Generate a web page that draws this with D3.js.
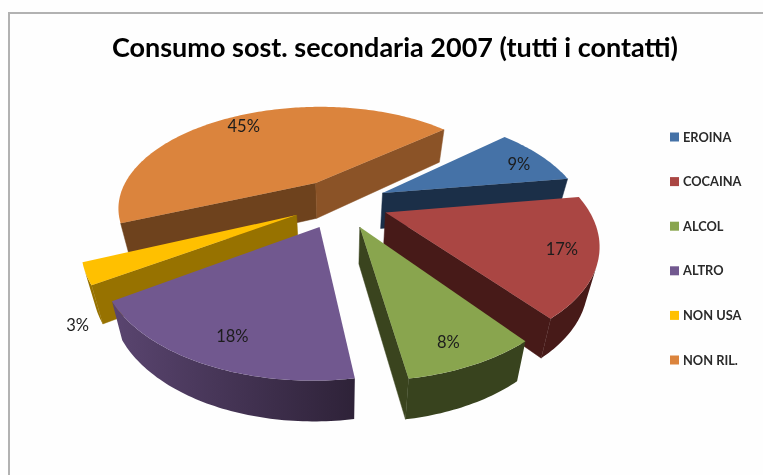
<!DOCTYPE html>
<html><head><meta charset="utf-8">
<script src="https://cdn.jsdelivr.net/npm/d3@7"></script>
<style>html,body{margin:0;padding:0;background:#fefefe;overflow:hidden}svg{display:block;filter:blur(.45px)}</style>
</head><body><svg id="c" width="763" height="475"></svg>
<script>
const titleText = "Consumo sost. secondaria 2007 (tutti i contatti)";
const categories = ["EROINA","COCAINA","ALCOL","ALTRO","NON USA","NON RIL."];
const values = [9,17,8,18,3,45];
const topColors = ["#4572a7","#aa4643","#89a54e","#71588f","#ffc000","#db843d"];
const startWallColors = ["#1b2f48","#471a18","#3a441e","#2e2238","#977200","#6e421d"];
const endWallColors = ["#1b2f48","#471a18","#3a441e","#2e2238","#977200","#8b5327"];
const rimFrom = ["#1b2f48","#471a18","#38431e","#2e2238","#977200","#6e421d"];
const rimTo = ["#1b2f48","#471a18","#38431e","#5a4570","#977200","#6e421d"];
const labelRadius = [.828,.84,.858,.83,1.145,.85];
const labelTurn = [2.4,-.3,1.4,-1.6,-16.6,-.8];
const paintOrder = [5,0,4,1,3,2];

const svg = d3.select("#c");
const W = {cx:340, cy:203, A:200, B:103, p:.24, skew:0, explode:.24, depth:36, depthP:.11, shrink:.955, start:49};
const rad = Math.PI/180;

function project(X,Y,bottom){
  const w = 1 - W.p*Y;
  let sx = W.A*X/w, sy = (W.B*Y+W.skew*X)/w;
  if(bottom){ sx *= W.shrink; sy += W.depth*(1+W.depthP*Y); }
  return [W.cx+sx, W.cy+sy];
}
const pie = d3.pie().sort(null).startAngle(W.start*rad).endAngle((W.start+360)*rad);
const arcs = pie(values);
const line = d3.line();

svg.append("path").attr("d",line([[9,475],[9,13],[763,13]])).attr("fill","none").attr("stroke","#b2b2b2").attr("stroke-width",2);

const defs = svg.append("defs");
const g = svg.append("g");
paintOrder.forEach(i=>{
  const a = arcs[i], mid=(a.startAngle+a.endAngle)/2;
  const ox = W.explode*Math.sin(mid), oy = -W.explode*Math.cos(mid);
  const n = Math.max(3,Math.ceil((a.endAngle-a.startAngle)/rad));
  const ts = d3.range(n+1).map(k=>a.startAngle+(a.endAngle-a.startAngle)*k/n);
  const ground = ts.map(t=>[ox+Math.sin(t),oy-Math.cos(t)]);
  const tip=[ox,oy];
  const quadOf=(p,q)=>[project(p[0],p[1],false),project(q[0],q[1],false),project(q[0],q[1],true),project(p[0],p[1],true)];
  const wall=(p,q,color)=>{
    const quad=quadOf(p,q);
    if(d3.polygonArea(quad)>0) g.append("path").attr("d",line(quad)+"Z").attr("fill",color).attr("stroke",color).attr("stroke-width",.5);
  };
  wall(tip,ground[0],startWallColors[i]);
  wall(ground[n],tip,endWallColors[i]);
  const visible=d3.range(n).filter(k=>d3.polygonArea(quadOf(ground[k],ground[k+1]))>0);
  if(visible.length){
    const runTop=[],runBottom=[];
    d3.range(visible[0],visible[visible.length-1]+2).forEach(k=>{
      runTop.push(project(ground[k][0],ground[k][1],false));
      runBottom.push(project(ground[k][0],ground[k][1],true));
    });
    const id="rim"+i, first=runTop[0], last=runTop[runTop.length-1];
    const grad=defs.append("linearGradient").attr("id",id).attr("gradientUnits","userSpaceOnUse")
      .attr("x1",first[0]).attr("y1",0).attr("x2",last[0]+.01).attr("y2",0);
    grad.append("stop").attr("offset",0).attr("stop-color",rimFrom[i]);
    grad.append("stop").attr("offset",1).attr("stop-color",rimTo[i]);
    g.append("path").attr("d",line([...runTop,...runBottom.reverse()])+"Z").attr("fill",`url(#${id})`);
  }
  const top=[tip,...ground].map(p=>project(p[0],p[1],false));
  g.append("path").attr("d",line(top)+"Z").attr("fill",topColors[i]);
});

arcs.forEach((a,i)=>{
  const mid=(a.startAngle+a.endAngle)/2, ox=W.explode*Math.sin(mid), oy=-W.explode*Math.cos(mid);
  const t=mid+labelTurn[i]*rad, r=labelRadius[i];
  const p=project(ox+r*Math.sin(t),oy-r*Math.cos(t),false);
  svg.append("text").attr("x",p[0]).attr("y",p[1]+6).attr("text-anchor","middle")
    .attr("font-family","Lato").attr("font-size",16.5).attr("fill","#1c1c1c").text(values[i]+"%");
});

svg.append("text").attr("x",395).attr("y",57).attr("text-anchor","middle")
  .attr("font-family","Lato").attr("font-weight",700).attr("font-size",27).attr("fill","#000").text(titleText);

const legendY = d3.scalePoint().domain(categories).range([137,360]);
categories.forEach((c,i)=>{
  svg.append("rect").attr("x",670).attr("y",legendY(c)-4.5).attr("width",9).attr("height",9).attr("fill",topColors[i]);
  svg.append("text").attr("x",683).attr("y",legendY(c)+4.5).attr("font-family","Lato").attr("font-weight",700)
    .attr("font-size",12.8).attr("fill","#2a2a2a").text(c);
});
</script></body></html>
